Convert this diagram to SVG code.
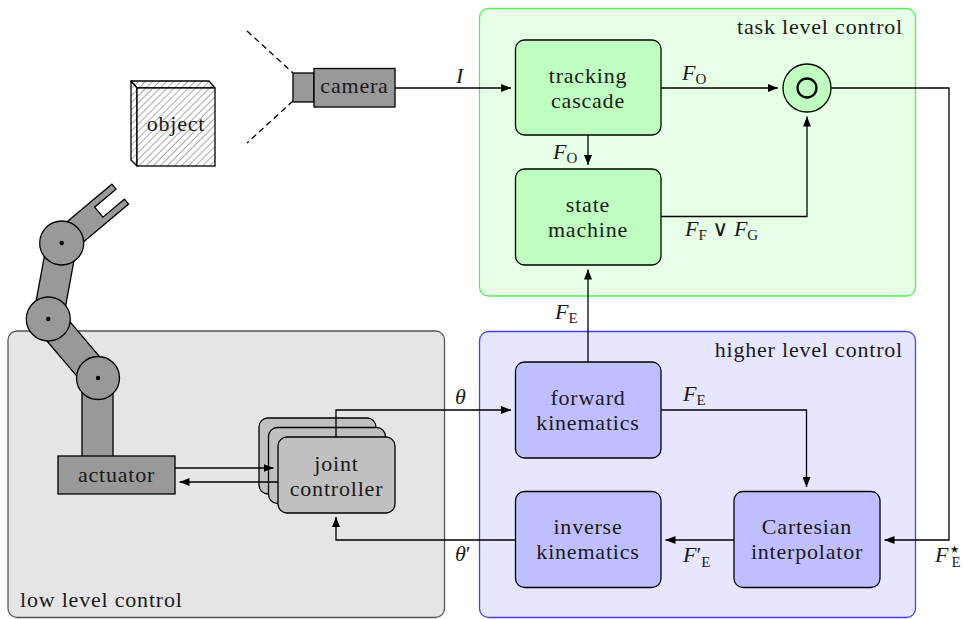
<svg xmlns="http://www.w3.org/2000/svg" width="963" height="619" viewBox="0 0 963 619" font-family="'Liberation Serif', 'Times New Roman', 'DejaVu Serif', serif">
  <style>
    text { font-family: "Liberation Serif", "Times New Roman", "DejaVu Serif", serif; font-size: 22px; fill: #1a1a1a; }
    .c { text-anchor: middle; letter-spacing: 0.8px; }
    .g { letter-spacing: 0.8px; }
    .e { text-anchor: end; letter-spacing: 0.8px; }
    .it { font-style: italic; }
    .sub { font-size: 15px; font-style: normal; }
    .sup { font-size: 21px; font-style: normal; }
    .node { stroke: #000; stroke-width: 1.3; }
    .tn { fill: #bfffbf; }
    .hn { fill: #bfbfff; }
    .jn { fill: #c0c0c0; }
    .dark { fill: #999; stroke: #000; stroke-width: 1.3; }
    .wire { fill: none; stroke: #000; stroke-width: 1.3; }
    .arr { marker-end: url(#tip); }
  </style>
  <defs>
    <marker id="tip" markerUnits="userSpaceOnUse" markerWidth="11" markerHeight="8" refX="10" refY="4" orient="auto">
      <path d="M0,0 L10,4 L0,8 z" fill="#000"/>
    </marker>
    <pattern id="hatch" width="5" height="5" patternUnits="userSpaceOnUse" patternTransform="rotate(45)">
      <rect width="5" height="5" fill="#fff"/>
      <line x1="0" y1="0" x2="0" y2="5" stroke="#555" stroke-width="1"/>
    </pattern>
  </defs>

  <!-- control level regions -->
  <g id="task-level">
    <rect x="479.5" y="8.5" width="436" height="287.5" rx="9" fill="#e6ffe6" stroke="#55ee55" stroke-width="1.3"/>
    <text class="e" x="903" y="34">task level control</text>
  </g>
  <g id="higher-level">
    <rect x="479.5" y="331.5" width="436" height="286" rx="9" fill="#e6e6ff" stroke="#4444ee" stroke-width="1.3"/>
    <text class="e" x="903" y="357">higher level control</text>
  </g>
  <g id="low-level">
    <rect x="8" y="331" width="436.5" height="286.5" rx="9" fill="#e5e5e5" stroke="#555" stroke-width="1.3"/>
    <text class="g" x="20" y="607">low level control</text>
  </g>

  <!-- object -->
  <g id="object">
    <polygon points="131,81 209,81 215,88 137,88" fill="url(#hatch)" stroke="#000" stroke-width="1.3" stroke-linejoin="round"/>
    <polygon points="131,81 137,88 137,166 131,160" fill="url(#hatch)" stroke="#000" stroke-width="1.3" stroke-linejoin="round"/>
    <rect x="137" y="88" width="78" height="78" fill="url(#hatch)" stroke="#000" stroke-width="1.3"/>
    <text class="c" x="176" y="131">object</text>
  </g>

  <!-- camera with field of view -->
  <g id="camera">
    <line x1="247" y1="31" x2="293" y2="73" stroke="#000" stroke-width="1.3" stroke-dasharray="6,4"/>
    <line x1="293" y1="101" x2="247" y2="143" stroke="#000" stroke-width="1.3" stroke-dasharray="6,4"/>
    <rect x="293" y="73" width="21" height="29" class="dark"/>
    <rect x="314" y="68.5" width="81" height="38.5" class="dark"/>
    <text class="c" x="354.5" y="93">camera</text>
  </g>

  <!-- robot arm -->
  <g id="robot-arm">
    <rect x="82" y="380" width="31" height="77" class="dark"/>
    <polygon points="59.4,309.3 36.6,328.7 86.6,387.7 109.4,368.3" class="dark"/>
    <polygon points="76.7,245.7 47.3,240.3 33.3,316.3 62.7,321.7" class="dark"/>
    <polygon transform="translate(62,243) rotate(-40)" points="0,-13 76,-13 76,-6.5 48,-6.5 48,6.5 76,6.5 76,13 0,13" class="dark"/>
    <circle cx="98" cy="378" r="21.5" class="dark"/>
    <circle cx="48.3" cy="319" r="22" class="dark"/>
    <circle cx="61.7" cy="243" r="22" class="dark"/>
    <circle cx="98" cy="378" r="2.2" fill="#000"/>
    <circle cx="48.3" cy="319" r="2.2" fill="#000"/>
    <circle cx="61.7" cy="243" r="2.2" fill="#000"/>
  </g>

  <g id="actuator">
    <rect x="58" y="456" width="117" height="38" class="dark"/>
    <text class="c" x="116.5" y="482">actuator</text>
  </g>

  <g id="joint-controller">
    <rect x="259" y="418" width="117" height="76" rx="9" class="node jn"/>
    <rect x="268.5" y="427.5" width="117" height="76" rx="9" class="node jn"/>
    <rect x="278" y="437" width="117" height="76" rx="9" class="node jn"/>
    <text class="c" x="336.5" y="471">joint</text>
    <text class="c" x="336.5" y="496">controller</text>
  </g>

  <g id="tracking-cascade">
    <rect x="515.5" y="40" width="145.5" height="95" rx="9" class="node tn"/>
    <text class="c" x="588" y="83">tracking</text>
    <text class="c" x="588" y="108">cascade</text>
  </g>

  <g id="state-machine">
    <rect x="515.5" y="169" width="145.5" height="96" rx="9" class="node tn"/>
    <text class="c" x="588" y="212">state</text>
    <text class="c" x="588" y="237">machine</text>
  </g>

  <g id="combiner">
    <circle cx="807" cy="88" r="24" class="node tn"/>
    <circle cx="807" cy="88" r="9.5" fill="none" stroke="#000" stroke-width="2.3"/>
  </g>

  <g id="forward-kinematics">
    <rect x="515.5" y="362" width="145.5" height="96" rx="9" class="node hn"/>
    <text class="c" x="588" y="405">forward</text>
    <text class="c" x="588" y="430">kinematics</text>
  </g>

  <g id="inverse-kinematics">
    <rect x="515.5" y="491.5" width="145.5" height="96" rx="9" class="node hn"/>
    <text class="c" x="588" y="534">inverse</text>
    <text class="c" x="588" y="559">kinematics</text>
  </g>

  <g id="cartesian-interpolator">
    <rect x="734" y="491.5" width="146" height="96" rx="9" class="node hn"/>
    <text class="c" x="807" y="534">Cartesian</text>
    <text class="c" x="807" y="559">interpolator</text>
  </g>

  <!-- signal flow -->
  <g id="connectors">
    <path class="wire arr" d="M395,88 H511"/>
    <path class="wire arr" d="M661,88 H778"/>
    <path class="wire arr" d="M588,135 V165"/>
    <path class="wire arr" d="M661,216.5 H807 V116.5"/>
    <path class="wire arr" d="M831,88 H949 V540 H884.5"/>
    <path class="wire arr" d="M588,362 V269.5"/>
    <path class="wire arr" d="M661,410 H806.5 V487"/>
    <path class="wire arr" d="M734,540 H665.5"/>
    <path class="wire arr" d="M515.5,540 H336 V517"/>
    <path class="wire arr" d="M336,437 V410 H511"/>
    <path class="wire arr" d="M175,468 H273.5"/>
    <path class="wire arr" d="M278,482 H179.5"/>

    <text class="it" x="456" y="83">I</text>
    <text x="682" y="80"><tspan class="it">F</tspan><tspan class="sub" dy="3.5">O</tspan></text>
    <text x="553" y="159"><tspan class="it">F</tspan><tspan class="sub" dy="3.5">O</tspan></text>
    <text x="685" y="236"><tspan class="it">F</tspan><tspan class="sub" dy="3.5">F</tspan><tspan dy="-3.5"> ∨ </tspan><tspan class="it">F</tspan><tspan class="sub" dy="3.5">G</tspan></text>
    <text x="555" y="319"><tspan class="it">F</tspan><tspan class="sub" dy="3.5">E</tspan></text>
    <text class="it" x="455" y="404">θ</text>
    <text x="683" y="401"><tspan class="it">F</tspan><tspan class="sub" dy="3.5">E</tspan></text>
    <text x="455" y="561"><tspan class="it">θ</tspan><tspan>′</tspan></text>
    <text x="683" y="562"><tspan class="it">F</tspan><tspan>′</tspan><tspan class="sub" dy="5">E</tspan></text>
    <text x="935" y="562"><tspan class="it">F</tspan><tspan class="sup" dy="-6">⋆</tspan><tspan class="sub" dx="-10" dy="11">E</tspan></text>
  </g>
</svg>
